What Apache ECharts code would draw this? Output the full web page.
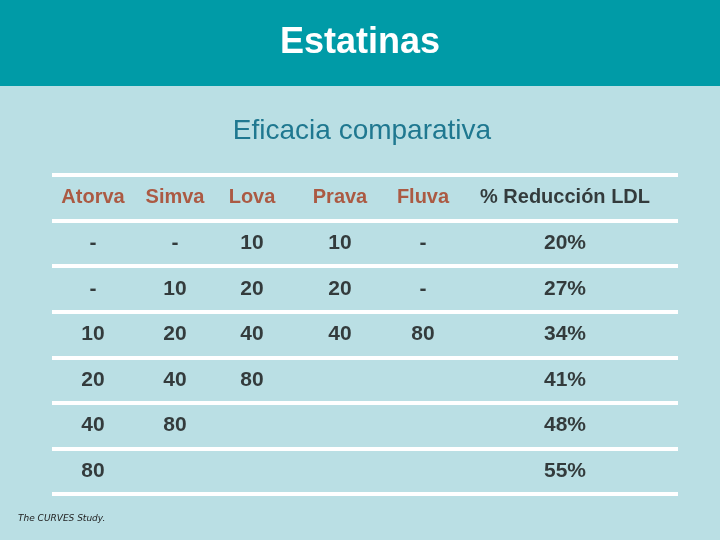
<!DOCTYPE html>
<html><head><meta charset="utf-8">
<script src="https://cdn.jsdelivr.net/npm/echarts@6/dist/echarts.min.js"></script>
<style>html,body{margin:0;padding:0;background:#BADFE4}#c{width:720px;height:540px}</style>
</head><body><div id="c"></div>
<script>
const headers = ['Atorva','Simva','Lova','Prava','Fluva','% Reducción LDL'];
const colPos = [93,175,252,340,423,565];
const atorva = ['-','-','10','20','40','80'];
const simva = ['-','10','20','40','80',''];
const lova = ['10','20','40','80','',''];
const prava = ['10','20','40','','',''];
const fluva = ['-','-','80','','',''];
const reduccion = ['20%','27%','34%','41%','48%','55%'];
const rows = ['h','r1','r2','r3','r4','r5','r6'];

const cols = [atorva,simva,lova,prava,fluva,reduccion];
const cellData = [];
cols.forEach((col,ci)=>col.forEach((v,ri)=>{ if(v) cellData.push([colPos[ci], rows[ri+1], v]); }));
const headData = headers.map((h,i)=>[colPos[i],'h',h,i]);

const chart = echarts.init(document.getElementById('c'));
chart.setOption({
  backgroundColor:'#BADFE4',
  graphic:[
    {type:'rect',shape:{x:0,y:0,width:720,height:86},style:{fill:'#009BA7'}},
    {type:'text',x:360,y:43,style:{text:'Estatinas',fill:'#fff',font:'bold 36px "Liberation Sans", Arial',align:'center',verticalAlign:'middle'}},
    {type:'text',x:362,y:131,style:{text:'Eficacia comparativa',fill:'#1F7890',font:'28px "Liberation Sans", Arial',align:'center',verticalAlign:'middle'}},
    {type:'text',x:18,y:519,style:{text:'The CURVES Study.',fill:'#222',font:'italic 9px "DejaVu Sans", Arial',align:'left',verticalAlign:'middle'}}
  ],
  grid:{left:52,right:42,top:175,bottom:46},
  xAxis:{type:'value',min:52,max:678,show:false},
  yAxis:{type:'category',data:rows,inverse:true,boundaryGap:true,
    axisLine:{show:false},axisTick:{show:false},axisLabel:{show:false},
    splitLine:{show:true,lineStyle:{color:'#ffffff',width:4}}},
  series:[
    {type:'scatter',symbolSize:0,data:headData,silent:true,
      label:{show:true,position:'inside',formatter:p=>p.data[2],
        rich:{},fontFamily:'"Liberation Sans Narrow", "Liberation Sans"',fontWeight:'bold',fontSize:20,
        color:'#A8381A'},
      labelLayout:{},
      encode:{x:0,y:1}},
    {type:'scatter',symbolSize:0,data:[[colPos[5],'h',headers[5]]],silent:true,
      label:{show:true,position:'inside',formatter:p=>p.data[2],
        fontFamily:'"Liberation Sans Narrow", "Liberation Sans"',fontWeight:'bold',fontSize:20,color:'#111'}},
    {type:'scatter',symbolSize:0,data:cellData,silent:true,
      label:{show:true,position:'inside',formatter:p=>p.data[2],
        fontFamily:'"Liberation Sans Narrow", "Liberation Sans"',fontWeight:'bold',fontSize:21,color:'#111'}}
  ]
});
// make last header black by overriding first series' item
const opt = chart.getOption();
chart.setOption({series:[{data:headData.map((d,i)=>i===5?{value:d,label:{show:false}}:d)}]});
</script></body></html>
